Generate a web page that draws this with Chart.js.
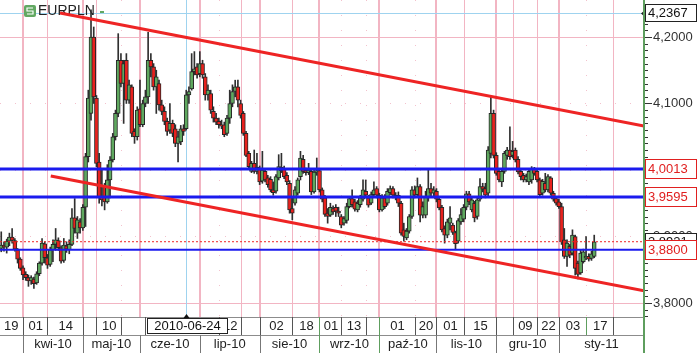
<!DOCTYPE html>
<html>
<head>
<meta charset="utf-8">
<title>EURPLN</title>
<script src="https://cdn.jsdelivr.net/npm/chart.js@4.4.0/dist/chart.umd.min.js"></script>
<style>
  html, body { margin: 0; padding: 0; background: #fff; }
  #wrap { width: 697px; height: 353px; }
</style>
</head>
<body>
<div id="wrap"><canvas id="eurplnChart" width="697" height="353"></canvas></div>
<script>
// EUR/PLN daily candles, first candle 2010-03-22, one entry per weekday
const firstDate = '2010-03-22';
const opens = [
  3.882, 3.887, 3.884, 3.893, 3.899, 3.894, 3.880, 3.866,
  3.853, 3.843, 3.838, 3.833, 3.836, 3.830, 3.844, 3.860, 3.889, 3.868, 3.858, 3.880, 3.888, 3.894, 3.883, 3.864, 3.886, 3.880, 3.888, 3.928, 3.905, 3.922,
  3.913, 3.944, 4.020, 4.085, 4.200, 4.108, 4.012, 3.960, 3.975, 3.952, 3.985, 4.015, 4.050, 4.085, 4.165, 4.130, 4.165, 4.105, 4.125, 4.058, 4.050,
  4.092, 4.068, 4.100, 4.110, 4.165, 4.155, 4.125, 4.130, 4.098, 4.088, 4.073, 4.060, 4.070, 4.062, 4.040, 4.042, 4.062, 4.062, 4.113, 4.122, 4.148, 4.155,
  4.145, 4.160, 4.140, 4.113, 4.115, 4.088, 4.078, 4.073, 4.068, 4.068, 4.055, 4.078, 4.100, 4.118, 4.125, 4.100, 4.085, 4.055, 4.025, 3.998, 4.010, 3.998,
  4.003, 3.983, 3.998, 3.988, 3.986, 3.970, 3.968, 3.988, 4.004, 4.002, 3.992, 3.980, 3.942, 3.950, 3.965, 3.990, 4.016, 3.999, 3.996, 3.998, 3.967, 3.997,
  3.999, 3.970, 3.958, 3.935, 3.932, 3.942, 3.944, 3.938, 3.930, 3.920, 3.924, 3.945, 3.957, 3.952, 3.940, 3.948, 3.956, 3.968, 3.958, 3.950, 3.963, 3.972,
  3.962, 3.940, 3.958, 3.950, 3.966, 3.972, 3.962, 3.962, 3.950, 3.910, 3.898, 3.908, 3.930, 3.970, 3.963, 3.975, 3.932, 3.932, 3.958, 3.972, 3.965,
  3.968, 3.956, 3.944, 3.912, 3.902, 3.920, 3.917, 3.906, 3.893, 3.922, 3.926, 3.944, 3.964, 3.940, 3.950, 3.930, 3.956, 3.975, 3.972, 3.965, 4.025, 4.085,
  4.022, 3.998, 3.982, 3.998, 4.022, 4.030, 4.022, 4.030, 4.016, 3.998, 3.992, 3.985, 3.982, 3.985, 4.002, 3.998, 3.985, 3.965, 3.980, 3.970, 3.988, 3.965, 3.957,
  3.952, 3.945, 3.895, 3.870, 3.885, 3.875, 3.900, 3.860, 3.845, 3.862, 3.868, 3.870, 3.867, 3.870
];
const highs = [
  3.907, 3.892, 3.896, 3.905, 3.912, 3.897, 3.882, 3.868,
  3.856, 3.847, 3.842, 3.841, 3.839, 3.847, 3.862, 3.897, 3.892, 3.873, 3.884, 3.895, 3.912, 3.898, 3.886, 3.897, 3.892, 3.895, 3.942, 3.957, 3.930, 3.927,
  3.948, 4.025, 4.120, 4.241, 4.215, 4.112, 4.025, 4.000, 3.980, 4.008, 4.020, 4.055, 4.090, 4.205, 4.175, 4.165, 4.175, 4.135, 4.128, 4.062, 4.095,
  4.135, 4.105, 4.120, 4.207, 4.175, 4.160, 4.150, 4.135, 4.105, 4.095, 4.078, 4.100, 4.075, 4.068, 4.058, 4.067, 4.068, 4.120, 4.125, 4.175, 4.178, 4.160,
  4.178, 4.165, 4.145, 4.128, 4.120, 4.095, 4.085, 4.078, 4.075, 4.072, 4.082, 4.120, 4.128, 4.135, 4.135, 4.105, 4.088, 4.058, 4.028, 4.013, 4.030, 4.025,
  4.006, 4.028, 4.002, 3.992, 3.990, 3.982, 3.993, 4.023, 4.025, 4.006, 3.996, 3.984, 3.960, 3.975, 3.988, 4.028, 4.022, 4.003, 4.010, 4.002, 4.000, 4.018,
  4.002, 3.973, 3.962, 3.942, 3.950, 3.946, 3.948, 3.944, 3.933, 3.930, 3.950, 3.960, 3.970, 3.956, 3.954, 3.962, 3.985, 3.985, 3.962, 3.967, 3.982, 3.975,
  3.965, 3.963, 3.963, 3.972, 3.976, 3.975, 3.966, 3.967, 3.953, 3.920, 3.912, 3.933, 3.975, 3.976, 3.988, 3.978, 3.952, 3.968, 4.000, 3.980, 3.975,
  3.972, 3.958, 3.947, 3.916, 3.926, 3.945, 3.920, 3.908, 3.927, 3.942, 3.948, 3.968, 3.968, 3.958, 3.953, 3.958, 3.987, 3.980, 3.980, 4.035, 4.110, 4.090,
  4.026, 4.002, 4.002, 4.028, 4.034, 4.065, 4.043, 4.033, 4.020, 4.002, 3.995, 3.994, 4.002, 4.005, 4.004, 4.000, 3.988, 3.986, 3.995, 3.993, 3.990, 3.968, 3.960,
  3.956, 3.950, 3.912, 3.895, 3.888, 3.910, 3.902, 3.863, 3.880, 3.881, 3.900, 3.874, 3.878, 3.902
];
const lows = [
  3.877, 3.878, 3.875, 3.886, 3.890, 3.878, 3.860, 3.849,
  3.835, 3.834, 3.825, 3.828, 3.822, 3.828, 3.841, 3.857, 3.860, 3.852, 3.855, 3.862, 3.879, 3.879, 3.860, 3.861, 3.876, 3.874, 3.886, 3.905, 3.897, 3.905,
  3.909, 3.915, 4.012, 4.075, 4.100, 4.005, 3.950, 3.946, 3.940, 3.950, 3.958, 4.012, 4.045, 4.080, 4.125, 4.070, 4.100, 4.100, 4.050, 4.040, 4.045,
  4.065, 4.065, 4.095, 4.100, 4.140, 4.120, 4.085, 4.090, 4.083, 4.068, 4.052, 4.055, 4.050, 4.035, 4.012, 4.038, 4.052, 4.060, 4.100, 4.120, 4.143, 4.138,
  4.140, 4.138, 4.105, 4.105, 4.085, 4.072, 4.068, 4.063, 4.062, 4.050, 4.052, 4.070, 4.095, 4.110, 4.095, 4.078, 4.052, 4.020, 4.002, 3.996, 3.995, 3.994,
  3.978, 3.980, 3.982, 3.974, 3.967, 3.962, 3.965, 3.985, 3.996, 3.987, 3.978, 3.935, 3.925, 3.947, 3.962, 3.985, 3.995, 3.992, 3.993, 3.963, 3.965, 3.992,
  3.967, 3.952, 3.930, 3.920, 3.930, 3.933, 3.930, 3.930, 3.913, 3.917, 3.920, 3.943, 3.944, 3.938, 3.937, 3.944, 3.953, 3.958, 3.944, 3.948, 3.960, 3.958,
  3.937, 3.938, 3.942, 3.947, 3.963, 3.958, 3.955, 3.945, 3.902, 3.893, 3.895, 3.905, 3.927, 3.958, 3.960, 3.922, 3.928, 3.928, 3.953, 3.960, 3.961,
  3.952, 3.940, 3.907, 3.890, 3.898, 3.910, 3.903, 3.880, 3.890, 3.918, 3.922, 3.940, 3.948, 3.937, 3.922, 3.926, 3.953, 3.967, 3.958, 3.960, 4.018, 4.018,
  3.992, 3.982, 3.975, 3.995, 4.016, 4.016, 4.018, 4.012, 3.994, 3.985, 3.982, 3.982, 3.978, 3.980, 3.992, 3.982, 3.960, 3.962, 3.967, 3.967, 3.962, 3.953, 3.947,
  3.942, 3.888, 3.867, 3.855, 3.868, 3.872, 3.842, 3.836, 3.843, 3.860, 3.865, 3.863, 3.864, 3.868
];
const closes = [
  3.887, 3.884, 3.893, 3.899, 3.894, 3.881, 3.866, 3.852,
  3.842, 3.838, 3.833, 3.838, 3.829, 3.844, 3.860, 3.890, 3.868, 3.857, 3.880, 3.888, 3.895, 3.883, 3.863, 3.887, 3.881, 3.888, 3.928, 3.912, 3.925, 3.913,
  3.944, 4.020, 4.108, 4.200, 4.110, 4.010, 3.960, 3.955, 3.952, 3.985, 4.015, 4.050, 4.085, 4.165, 4.130, 4.160, 4.105, 4.128, 4.055, 4.050, 4.090,
  4.068, 4.100, 4.110, 4.165, 4.155, 4.125, 4.140, 4.098, 4.088, 4.073, 4.058, 4.070, 4.055, 4.040, 4.050, 4.062, 4.058, 4.113, 4.118, 4.148, 4.152, 4.143,
  4.160, 4.143, 4.113, 4.120, 4.090, 4.078, 4.072, 4.068, 4.066, 4.053, 4.078, 4.100, 4.118, 4.125, 4.105, 4.082, 4.055, 4.022, 4.005, 4.010, 3.998, 4.004,
  3.982, 4.000, 3.985, 3.978, 3.970, 3.966, 3.990, 4.005, 3.999, 3.990, 3.982, 3.940, 3.935, 3.970, 3.985, 4.018, 3.998, 3.996, 4.000, 3.967, 3.997, 3.999,
  3.970, 3.956, 3.933, 3.930, 3.944, 3.937, 3.938, 3.935, 3.917, 3.927, 3.945, 3.957, 3.948, 3.941, 3.950, 3.958, 3.970, 3.962, 3.947, 3.963, 3.970, 3.962,
  3.940, 3.958, 3.945, 3.968, 3.972, 3.962, 3.958, 3.950, 3.905, 3.900, 3.908, 3.930, 3.970, 3.962, 3.975, 3.932, 3.945, 3.960, 3.972, 3.965, 3.970,
  3.956, 3.943, 3.910, 3.902, 3.922, 3.928, 3.906, 3.889, 3.924, 3.933, 3.944, 3.964, 3.952, 3.955, 3.928, 3.955, 3.975, 3.971, 3.962, 4.030, 4.085, 4.022,
  3.995, 3.985, 3.998, 4.025, 4.030, 4.020, 4.028, 4.015, 3.997, 3.990, 3.985, 3.990, 3.998, 4.002, 3.995, 3.985, 3.963, 3.983, 3.970, 3.990, 3.965, 3.956, 3.950,
  3.945, 3.892, 3.870, 3.890, 3.872, 3.902, 3.852, 3.843, 3.875, 3.877, 3.870, 3.866, 3.874, 3.892
];

// support / resistance levels and the last price
const levelValues = [4.0013, 3.9595, 3.8800];
const levelLabels = ['4,0013', '3,9595', '3,8800'];
const lastPrice = 3.8921;
const lastPriceLabel = '3,8921';

// trend lines, x in trading days counted from 2010-04-01
const upperTrendX = [13.6, 228.3];
const upperTrendY = [4.236, 4.066];
const lowerTrendX = [10.2, 228.3];
const lowerTrendY = [3.991, 3.8185];

// cursor
const cursorDate = '2010-06-24';
const cursorValue = 4.2367;
const cursorLabel = '4,2367';

// visible range in trading days, price range
const viewFirst = -8.46;
const viewLast = 228.3;
const priceMin = 3.7789;
const priceMax = 4.2556;

// axis ticks
const majorTicks = [4.2, 4.1, 4.0, 3.9, 3.8];
const majorTickLabels = ['4,2000', '4,1000', '4,0000', '3,9000', '3,8000'];

// day row of the time axis
const dayMarkDates = ['2010-03-19', '2010-04-01', '2010-04-14', '2010-05-03', '2010-05-10', '2010-05-21', '2010-06-03',
  '2010-07-12', '2010-07-22', '2010-08-02', '2010-08-18', '2010-09-01', '2010-09-13', '2010-09-24', '2010-10-01',
  '2010-10-20', '2010-11-01', '2010-11-15', '2010-12-01', '2010-12-09', '2010-12-22', '2011-01-03', '2011-01-17', '2011-01-31'];
const dayMarkLabels = ['19', '01', '14', '', '10', '', '', '12', '', '02', '18', '01', '13', '', '01',
  '20', '01', '15', '', '09', '22', '03', '17', ''];
const solidGridDates = ['2010-04-14', '2010-05-10', '2010-07-22', '2010-08-18', '2010-11-15', '2010-12-09', '2010-12-22', '2011-01-31'];
const dottedGridDates = ['2010-05-21', '2010-07-12', '2010-09-13', '2010-09-24', '2010-10-20', '2011-01-17'];

// month row of the time axis
const monthStartDates = ['2010-04-01', '2010-05-03', '2010-06-01', '2010-07-01', '2010-08-02', '2010-09-01',
  '2010-10-01', '2010-11-01', '2010-12-01', '2011-01-03'];
const monthLabels = ['kwi-10', 'maj-10', 'cze-10', 'lip-10', 'sie-10', 'wrz-10', 'paź-10', 'lis-10', 'gru-10', 'sty-11'];

const FONT = '"Liberation Sans", Arial, sans-serif';
const DAY = 86400000;
const BASE = Date.UTC(2010, 3, 1);

function toUTC(s) {
    const p = s.split('-').map(Number);
    return Date.UTC(p[0], p[1] - 1, p[2]);
}

function weekdaysBetween(a, b) {
    let n = 0;
    for (let d = a; d < b; d += DAY) {
        const w = new Date(d).getUTCDay();
        if (w !== 0 && w !== 6) n++;
    }
    return n;
}

// trading day number, 2010-04-01 = 0
function tradingIndex(s) {
    const t = toUTC(s);
    return t >= BASE ? weekdaysBetween(BASE, t) : -weekdaysBetween(t, BASE);
}

const startIdx = tradingIndex(firstDate);
const bodyData = opens.map((o, i) => ({ x: startIdx + i, y: [o, closes[i]] }));
const wickData = lows.map((l, i) => ({ x: startIdx + i, y: [l, highs[i]] }));

function flatLine(v) {
    return [{ x: viewFirst, y: v }, { x: viewLast, y: v }];
}

const decorPlugin = {
    id: 'decor',
    beforeDatasetsDraw(chart) {
        const { ctx, chartArea: a, scales: { x, y } } = chart;
        ctx.save();

        // faint dotted price grid
        ctx.strokeStyle = '#f3c2cd';
        ctx.lineWidth = 1;
        ctx.setLineDash([1, 14]);
        [4.1, 4.0, 3.9].forEach(v => {
            const py = Math.round(y.getPixelForValue(v)) + 0.5;
            ctx.beginPath(); ctx.moveTo(a.left, py); ctx.lineTo(a.right, py); ctx.stroke();
        });
        dottedGridDates.forEach(d => {
            const px = Math.round(x.getPixelForValue(tradingIndex(d))) + 0.5;
            ctx.beginPath(); ctx.moveTo(px, a.top); ctx.lineTo(px, a.bottom); ctx.stroke();
        });
        ctx.setLineDash([]);

        // pink grid
        ctx.strokeStyle = '#f2b5c3';
        [4.2, 3.8].forEach(v => {
            const py = Math.round(y.getPixelForValue(v)) + 0.5;
            ctx.beginPath(); ctx.moveTo(a.left, py); ctx.lineTo(a.right, py); ctx.stroke();
        });
        solidGridDates.forEach(d => {
            const px = Math.round(x.getPixelForValue(tradingIndex(d))) + 0.5;
            ctx.beginPath(); ctx.moveTo(px, a.top); ctx.lineTo(px, a.bottom); ctx.stroke();
        });
        ctx.lineWidth = 2;
        monthStartDates.forEach(d => {
            const px = Math.round(x.getPixelForValue(tradingIndex(d)));
            ctx.beginPath(); ctx.moveTo(px, a.top); ctx.lineTo(px, a.bottom); ctx.stroke();
        });

        // cursor cross
        ctx.strokeStyle = '#9fd3ef';
        ctx.lineWidth = 1;
        const cy = Math.round(y.getPixelForValue(cursorValue)) + 0.5;
        const cx = Math.round(x.getPixelForValue(tradingIndex(cursorDate))) + 0.5;
        ctx.beginPath(); ctx.moveTo(a.left, cy); ctx.lineTo(a.right, cy); ctx.stroke();
        ctx.beginPath(); ctx.moveTo(cx, a.top); ctx.lineTo(cx, a.bottom); ctx.stroke();

        // title
        ctx.fillStyle = '#62a862';
        ctx.beginPath();
        ctx.roundRect(24, 5, 12, 12, 2);
        ctx.fill();
        ctx.strokeStyle = '#ffffff';
        ctx.lineWidth = 1.2;
        ctx.beginPath();
        ctx.moveTo(33, 8); ctx.lineTo(27, 8); ctx.lineTo(27, 11); ctx.lineTo(33, 11); ctx.lineTo(33, 14); ctx.lineTo(27, 14);
        ctx.stroke();
        ctx.fillStyle = '#222';
        ctx.font = '14px ' + FONT;
        ctx.textBaseline = 'middle';
        ctx.textAlign = 'left';
        ctx.fillText('EURPLN', 38, 11.5);
        ctx.fillStyle = '#62a862';
        ctx.fillRect(100, 11, 4, 2);
        ctx.restore();
    },
    afterDraw(chart) {
        const { ctx, chartArea: a, scales: { x, y } } = chart;
        const W = chart.width, H = chart.height;
        ctx.save();

        // time axis rows
        const r1 = a.bottom, r2 = a.bottom + 18;
        ctx.fillStyle = '#fff';
        ctx.fillRect(0, r1, a.right, H - r1);
        ctx.strokeStyle = '#8c8c8c';
        ctx.lineWidth = 1;
        [r1 + 0.5, r2 + 0.5].forEach(py => {
            ctx.beginPath(); ctx.moveTo(0, py); ctx.lineTo(a.right, py); ctx.stroke();
        });
        ctx.font = '13px ' + FONT;
        ctx.textAlign = 'center';
        ctx.textBaseline = 'middle';
        const greenMarks = ['2010-09-01', '2010-10-01', '2011-01-17'];

        const dayPx = dayMarkDates.map(d => x.getPixelForValue(tradingIndex(d)));
        dayPx.forEach((px, i) => {
            const next = i + 1 < dayPx.length ? dayPx[i + 1] : a.right;
            ctx.strokeStyle = greenMarks.includes(dayMarkDates[i]) ? '#5e9e5e' : '#555';
            const sx = Math.round(px) + 0.5;
            if (sx > 0) {
                ctx.beginPath(); ctx.moveTo(sx, r1); ctx.lineTo(sx, r2); ctx.stroke();
            }
            if (dayMarkLabels[i]) {
                ctx.fillStyle = '#222';
                ctx.fillText(dayMarkLabels[i], (px + next) / 2 + 0.5, r1 + 9.5);
            }
        });

        const monPx = monthStartDates.map(d => x.getPixelForValue(tradingIndex(d)));
        monPx.forEach((px, i) => {
            const next = i + 1 < monPx.length ? monPx[i + 1] : a.right;
            ctx.strokeStyle = greenMarks.includes(monthStartDates[i]) ? '#5e9e5e' : '#777';
            const sx = Math.round(px) + 0.5;
            ctx.beginPath(); ctx.moveTo(sx, r2); ctx.lineTo(sx, H); ctx.stroke();
            ctx.fillStyle = '#222';
            ctx.fillText(monthLabels[i], (px + next) / 2, r2 + 9.5);
        });

        // cursor date box
        const cx = Math.round(x.getPixelForValue(tradingIndex(cursorDate))) + 0.5;
        const dw = Math.round(ctx.measureText(cursorDate).width + 14);
        const bx = Math.round(cx - dw / 2) + 0.5;
        ctx.fillStyle = '#fff';
        ctx.fillRect(bx, r1 + 1, dw, 16);
        ctx.strokeStyle = '#222';
        ctx.strokeRect(bx, r1 + 1.5, dw, 15);
        ctx.fillStyle = '#111';
        ctx.fillText(cursorDate, bx + dw / 2, r1 + 9.5);
        ctx.beginPath();
        ctx.moveTo(cx - 3, r1 + 1); ctx.lineTo(cx + 3, r1 + 1); ctx.lineTo(cx, r1 - 3);
        ctx.closePath(); ctx.fill();

        // price axis
        const ax = a.right;
        ctx.fillStyle = '#fff';
        ctx.fillRect(ax + 1, 0, W - ax, H);
        ctx.strokeStyle = '#333';
        ctx.lineWidth = 1;
        for (let k = 378; k <= 425; k++) {
            const py = Math.round(y.getPixelForValue(k / 100)) + 0.5;
            const len = k % 10 === 0 ? 7 : 3;
            ctx.beginPath(); ctx.moveTo(ax + 1, py); ctx.lineTo(ax + 1 + len, py); ctx.stroke();
        }
        ctx.font = '13px ' + FONT;
        ctx.textAlign = 'left';
        ctx.fillStyle = '#333';
        majorTicks.forEach((v, i) => {
            ctx.fillText(majorTickLabels[i], ax + 9, Math.round(y.getPixelForValue(v)) + 0.5);
        });

        // last price box (black) under the level boxes
        const boxW = W - ax - 1;
        function box(v, label, border, color, h) {
            const py = Math.round(y.getPixelForValue(v));
            ctx.fillStyle = '#fff';
            ctx.fillRect(ax + 1, py - h / 2, boxW, h);
            ctx.strokeStyle = border;
            ctx.strokeRect(ax + 1.5, py - h / 2 + 0.5, boxW - 1, h - 1);
            ctx.fillStyle = color;
            ctx.fillText(label, ax + 4, py + 0.5);
        }
        box(lastPrice, lastPriceLabel, '#222', '#111', 18);
        levelValues.forEach((v, i) => box(v, levelLabels[i], '#e02020', '#e02020', 20));
        box(cursorValue, cursorLabel, '#222', '#111', 18);
        const cy = Math.round(y.getPixelForValue(cursorValue));
        ctx.fillStyle = '#222';
        ctx.beginPath();
        ctx.moveTo(ax + 1, cy - 3); ctx.lineTo(ax + 1, cy + 4); ctx.lineTo(ax - 3, cy + 0.5);
        ctx.closePath(); ctx.fill();

        // axis line
        ctx.strokeStyle = '#5e9e5e';
        ctx.lineWidth = 2;
        ctx.beginPath(); ctx.moveTo(ax, 0); ctx.lineTo(ax, H); ctx.stroke();
        ctx.restore();
    }
};

const ctx = document.getElementById('eurplnChart').getContext('2d');
new Chart(ctx, {
    type: 'bar',
    data: {
        datasets: [
            {
                type: 'line',
                data: upperTrendX.map((v, i) => ({ x: v, y: upperTrendY[i] })),
                borderColor: '#ee2424',
                borderWidth: 3,
                pointRadius: 0,
                order: 0
            },
            {
                type: 'line',
                data: lowerTrendX.map((v, i) => ({ x: v, y: lowerTrendY[i] })),
                borderColor: '#ee2424',
                borderWidth: 3,
                pointRadius: 0,
                order: 0
            },
            ...levelValues.map((v, i) => ({
                type: 'line',
                data: flatLine(v),
                borderColor: '#1b1bee',
                borderWidth: i < 2 ? 3 : 2,
                pointRadius: 0,
                order: 0
            })),
            {
                type: 'line',
                data: flatLine(lastPrice),
                borderColor: '#ee2424',
                borderWidth: 1,
                borderDash: [2, 2],
                pointRadius: 0,
                order: 0
            },
            {
                data: bodyData,
                backgroundColor: c => closes[c.dataIndex] >= opens[c.dataIndex] ? '#5fa85f' : '#e8211d',
                borderColor: '#262626',
                borderWidth: 1,
                borderSkipped: false,
                barThickness: 4,
                minBarLength: 1,
                grouped: false,
                order: 1
            },
            {
                data: wickData,
                backgroundColor: '#303030',
                borderWidth: 0,
                barThickness: 1,
                grouped: false,
                order: 2
            }
        ]
    },
    options: {
        responsive: false,
        devicePixelRatio: 1,
        animation: false,
        layout: { padding: { left: 0, right: 53, top: 0, bottom: 36 } },
        plugins: {
            legend: { display: false },
            tooltip: { enabled: false }
        },
        scales: {
            x: { type: 'linear', min: viewFirst, max: viewLast, offset: false, display: false },
            y: { min: priceMin, max: priceMax, display: false }
        }
    },
    plugins: [decorPlugin]
});
</script>
</body>
</html>
